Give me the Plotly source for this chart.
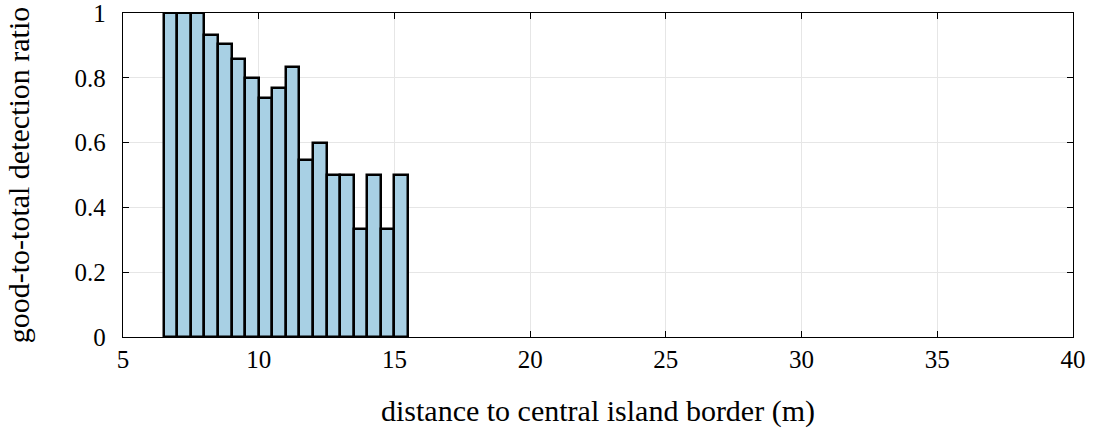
import plotly.graph_objects as go

bin_centers = [6.75, 7.25, 7.75, 8.25, 8.75, 9.25, 9.75, 10.25, 10.75, 11.25,
               11.75, 12.25, 12.75, 13.25, 13.75, 14.25, 14.75, 15.25]
ratios = [1.0, 1.0, 1.0, 0.933, 0.905, 0.857, 0.8, 0.737, 0.769, 0.833,
          0.545, 0.6, 0.5, 0.5, 0.333, 0.5, 0.333, 0.5]
bin_width = 0.5
x_ticks = [5, 10, 15, 20, 25, 30, 35, 40]
y_ticks = [0, 0.2, 0.4, 0.6, 0.8, 1]
y_tick_labels = ["0", "0.2", "0.4", "0.6", "0.8", "1"]

FONT = "Liberation Serif"

fig = go.Figure(go.Bar(
    x=bin_centers, y=ratios, width=bin_width,
    marker=dict(color="#a8d0e4", line=dict(color="black", width=2.5)),
))

fig.update_layout(
    width=1095, height=428,
    margin=dict(l=123, r=22, t=13, b=91, autoexpand=False),
    paper_bgcolor="white", plot_bgcolor="white",
    font=dict(family=FONT, size=25, color="black"),
    showlegend=False, bargap=0,
)
fig.update_xaxes(
    range=[5, 40], tickvals=x_ticks, showline=True, linecolor="black", linewidth=1.3,
    mirror="ticks", ticks="inside", ticklen=6, tickcolor="black", automargin=False,
    showgrid=True, gridcolor="#e6e6e6", gridwidth=1, zeroline=False,
    ticklabelstandoff=0, ticklabeloverflow="allow",
    title=dict(text="distance to central island border (m)", standoff=28),
)
fig.update_yaxes(
    range=[0, 1], tickvals=y_ticks, ticktext=y_tick_labels, showline=True,
    linecolor="black", linewidth=1.3, mirror="ticks", ticks="inside", ticklen=6,
    tickcolor="black", showgrid=True, gridcolor="#e6e6e6", gridwidth=1, zeroline=False,
    automargin=False, ticklabelstandoff=11, ticklabeloverflow="allow",
    title=dict(text="good-to-total detection ratio", standoff=36),
)

fig.write_html("out.html", config={"displayModeBar": False},
               post_script="document.body.style.margin='0';")
